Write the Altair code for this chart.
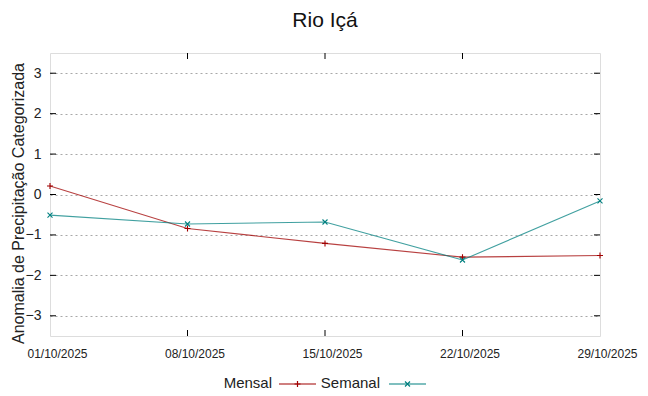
import altair as alt
import pandas as pd

# ---- data ----
dates = ["2025-10-01", "2025-10-08", "2025-10-15", "2025-10-22", "2025-10-29"]
mensal = [0.21, -0.84, -1.21, -1.55, -1.51]
semanal = [-0.51, -0.73, -0.68, -1.62, -0.16]
series_names = ["Mensal", "Semanal"]
series_colors = ["#a00000", "#008080"]
y_ticks = [-3, -2, -1, 0, 1, 2, 3]
title_text = "Rio Içá"
y_title = "Anomalia de Precipitação Categorizada"

FONT = "Liberation Sans"
W, H = 550, 283

df = pd.DataFrame({
    "date": dates * 2,
    "value": mensal + semanal,
    "serie": [series_names[0]] * len(dates) + [series_names[1]] * len(dates),
})
df_m = df[df.serie == "Mensal"]
df_s = df[df.serie == "Semanal"]

def dt(s):
    y, m, d = [int(v) for v in s.split("-")]
    return alt.DateTime(year=y, month=m, date=d, utc=True)

xscale = alt.Scale(type="utc", domain=[dt(dates[0]), dt(dates[-1])])
yscale = alt.Scale(domain=[-3.5, 3.5], nice=False)

xaxis = alt.Axis(values=[dt(d) for d in dates], format="%d/%m/%Y", title=None,
                 ticks=False, domain=False, grid=False, labelFont=FONT,
                 labelFontSize=12, labelColor="#222222", labelPadding=12,
                 labelOffset=7, labelFlush=False, labelOverlap=False)
yaxis = alt.Axis(values=y_ticks, title=y_title, ticks=False, domain=False,
                 grid=True, gridColor="#a8a8a8", gridDash=[2, 3], gridWidth=1,
                 labelFont=FONT, labelFontSize=14, labelColor="#222222",
                 labelPadding=9, titleFont=FONT, titleFontSize=16,
                 titleFontWeight="normal", titleColor="#222222",
                 titleX=-32, titleY=150, titleAngle=270, titleAlign="center",
                 titleBaseline="middle")

X = alt.X("date:T", scale=xscale, axis=xaxis)
Y = alt.Y("value:Q", scale=yscale, axis=yaxis)

plus_path = "M-1,0L1,0M0,-1L0,1"
cross_path = "M-1,-1L1,1M-1,1L1,-1"

line_m = alt.Chart(df_m).mark_line(color=series_colors[0], strokeWidth=1.1, opacity=0.75).encode(x=X, y=Y)
pts_m = alt.Chart(df_m).mark_point(shape=plus_path, color=series_colors[0], size=36,
                                   strokeWidth=1.1, filled=False, opacity=1).encode(x=X, y=Y)
line_s = alt.Chart(df_s).mark_line(color=series_colors[1], strokeWidth=1.1, opacity=0.75).encode(x=X, y=Y)
pts_s = alt.Chart(df_s).mark_point(shape=cross_path, color=series_colors[1], size=25,
                                   strokeWidth=1.1, filled=False, opacity=1).encode(x=X, y=Y)

# inward tick marks (gnuplot style)
ytick_df = pd.DataFrame({"v": y_ticks})
xtick_df = pd.DataFrame({"date": dates[1:-1]})
tick_color = "#000000"
yt_left = alt.Chart(ytick_df).mark_rule(color=tick_color, strokeWidth=1).encode(
    y=alt.Y("v:Q", scale=yscale), x=alt.value(0), x2=alt.value(6))
yt_right = alt.Chart(ytick_df).mark_rule(color=tick_color, strokeWidth=1).encode(
    y=alt.Y("v:Q", scale=yscale), x=alt.value(W - 6), x2=alt.value(W))
xt_bottom = alt.Chart(xtick_df).mark_rule(color=tick_color, strokeWidth=1).encode(
    x=alt.X("date:T", scale=xscale), y=alt.value(H - 6), y2=alt.value(H))
xt_top = alt.Chart(xtick_df).mark_rule(color=tick_color, strokeWidth=1).encode(
    x=alt.X("date:T", scale=xscale), y=alt.value(0), y2=alt.value(6))

# manual legend below the plot (label then sample, as in gnuplot)
LY = 331
leg = []
legend_df = pd.DataFrame({"serie": series_names})
leg.append(alt.Chart(legend_df[legend_df.serie == "Mensal"]).mark_text(
    font=FONT, fontSize=15, align="right", baseline="middle", color="#222222").encode(
    text="serie:N", x=alt.value(222), y=alt.value(LY - 1)))
leg.append(alt.Chart(legend_df[legend_df.serie == "Mensal"]).mark_rule(
    color=series_colors[0], strokeWidth=1.2).encode(x=alt.value(229), x2=alt.value(266), y=alt.value(LY)))
leg.append(alt.Chart(legend_df[legend_df.serie == "Mensal"]).mark_point(
    shape=plus_path, color=series_colors[0], size=36, strokeWidth=1.2, filled=False, opacity=1).encode(
    x=alt.value(247.5), y=alt.value(LY)))
leg.append(alt.Chart(legend_df[legend_df.serie == "Semanal"]).mark_text(
    font=FONT, fontSize=15, align="right", baseline="middle", color="#222222").encode(
    text="serie:N", x=alt.value(330), y=alt.value(LY - 1)))
leg.append(alt.Chart(legend_df[legend_df.serie == "Semanal"]).mark_rule(
    color=series_colors[1], strokeWidth=1.2).encode(x=alt.value(339), x2=alt.value(376), y=alt.value(LY)))
leg.append(alt.Chart(legend_df[legend_df.serie == "Semanal"]).mark_point(
    shape=cross_path, color=series_colors[1], size=25, strokeWidth=1.2, filled=False, opacity=1).encode(
    x=alt.value(357.5), y=alt.value(LY)))

chart = alt.layer(line_m, line_s, pts_m, pts_s, yt_left, yt_right, xt_bottom, xt_top, *leg).properties(
    width=W, height=H,
    title=alt.TitleParams(text=title_text, font=FONT, fontSize=21, fontWeight="normal",
                          color="#111111", anchor="middle", offset=22),
    autosize=alt.AutoSizeParams(type="none"),
    padding={"left": 42, "top": 45, "right": 40, "bottom": 60},
).configure_view(stroke="#606060", strokeWidth=1.3).configure(background="white")

chart.save("out.html", embed_options={"renderer": "svg", "actions": False})
